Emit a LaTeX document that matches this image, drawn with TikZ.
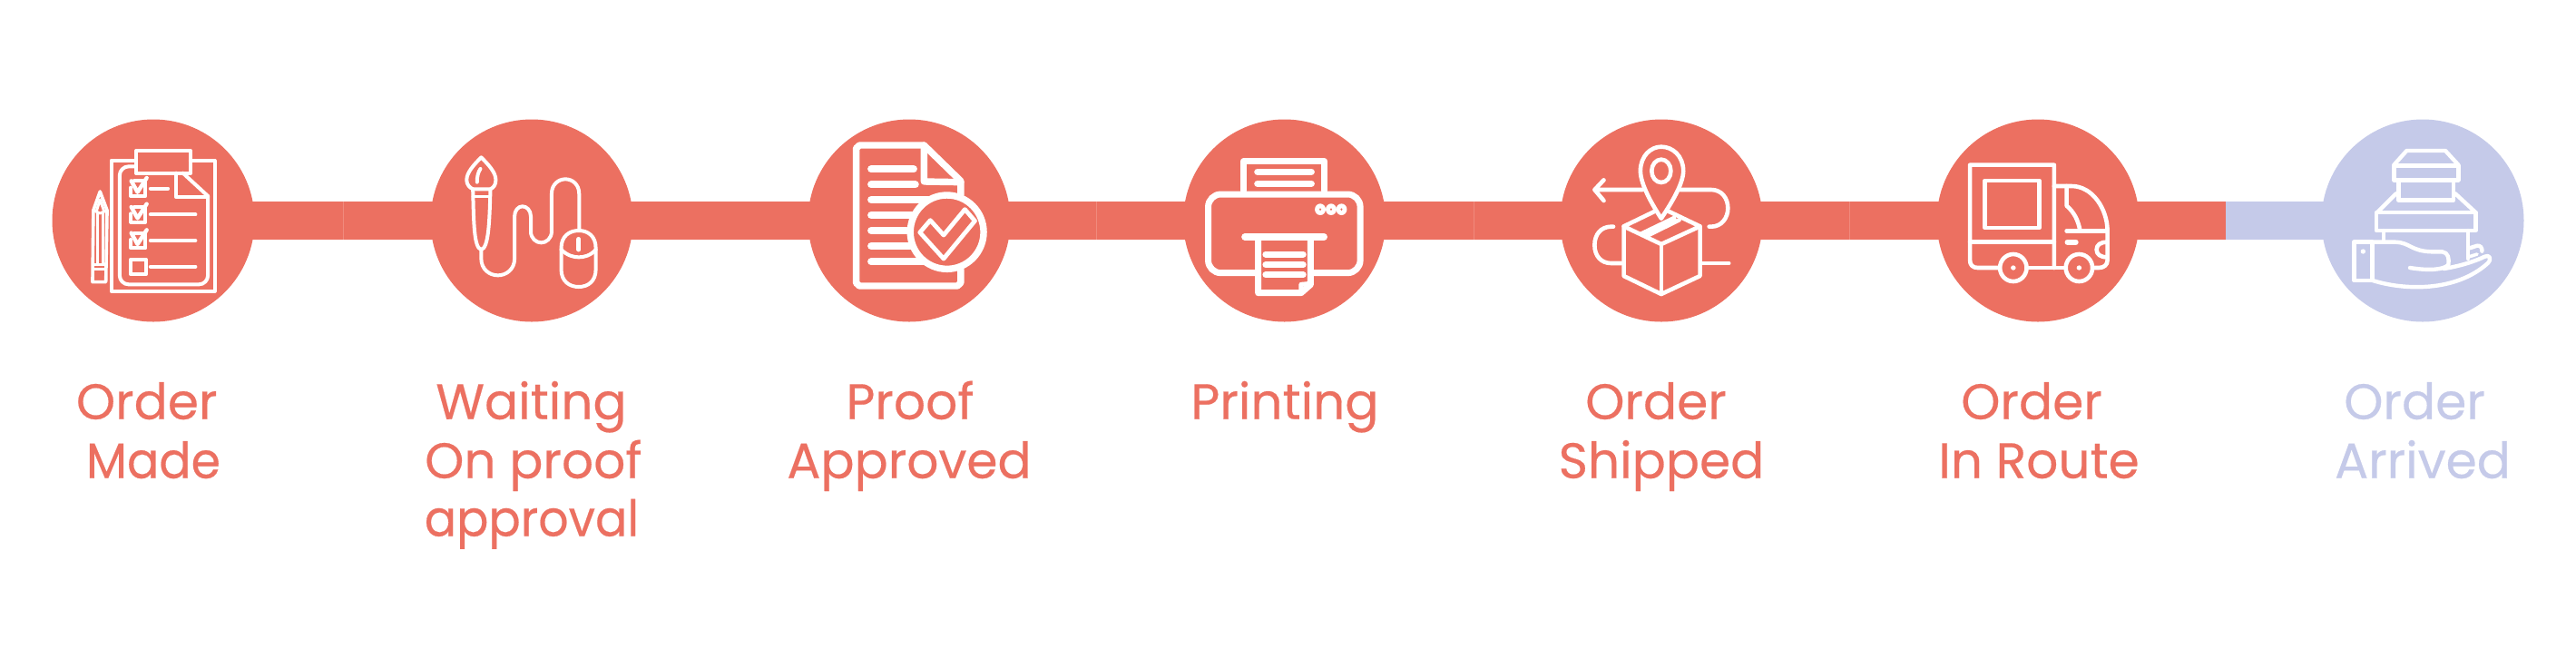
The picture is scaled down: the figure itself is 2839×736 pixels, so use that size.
\documentclass[tikz,border=0pt]{standalone}
\usepackage{fontspec}
\setmainfont{Poppins}[FakeBold=0.35]
\definecolor{salmon}{HTML}{EC7061}
\definecolor{lav}{HTML}{C5CAE9}
\definecolor{seam}{HTML}{F08A7D}
\tikzset{
 disc/.style={circle,minimum size=111.5pt,inner sep=0pt,draw=none},
 barline/.style={line width=21pt,line cap=butt},
 seamline/.style={seam,line width=0.25pt},
 lab/.style={anchor=base,inner sep=0pt,font=\fontsize{27.5pt}{30pt}\selectfont},
 ico/.style={draw=white,line width=#1,line cap=round,line join=round},
 ico/.default=2pt,
 zA/.style={shift={(40,110)},x=0.22957pt,y=-0.16667pt},
 zB/.style={shift={(860,110)},x=0.22957pt,y=-0.16667pt},
 zC/.style={shift={(1700,110)},x=0.22957pt,y=-0.16667pt},
 zD/.style={shift={(2400,110)},x=0.16667pt,y=-0.16667pt},
}
\begin{document}
\begin{tikzpicture}[x=0.5pt,y=-0.5pt]
\useasboundingbox (0,0) rectangle (2839,736);
\fill[white] (0,0) rectangle (2839,736);
% discs
\node[disc,fill=salmon] (c1) at (169,243) {};
\node[disc,fill=salmon] (c2) at (586,243) {};
\node[disc,fill=salmon] (c3) at (1002,243) {};
\node[disc,fill=salmon] (c4) at (1415.6,243) {};
\node[disc,fill=salmon] (c5) at (1831,243) {};
\node[disc,fill=salmon] (c6) at (2246,243) {};
\node[disc,fill=lav] (c7) at (2670,243) {};
\coordinate (split) at (2453,243);
% connectors
\draw[salmon,barline] (c1.center) -- (c2.center);
\draw[salmon,barline] (c2.center) -- (c3.center);
\draw[salmon,barline] (c3.center) -- (c4.center);
\draw[salmon,barline] (c4.center) -- (c5.center);
\draw[salmon,barline] (c5.center) -- (c6.center);
\draw[salmon,barline] (c6.center) -- (split);
\draw[lav,barline] (split) -- (c7.center);
\draw[seamline] (378,222) -- (378,264) (1208.5,222) -- (1208.5,264) (1624,222) -- (1624,264) (2038.5,222) -- (2038.5,264);

% icon 1
\begin{scope}[zA]
\draw[ico=2pt] (238,200) -- (180,200) -- (180,632) -- (428,632) -- (428,200) -- (370,200);
\draw[ico=2pt,rounded corners=5pt] (238,220) -- (200,220) -- (200,610) -- (412,610) -- (412,318);
\draw[ico=2pt] (412,318) -- (352,242);
\draw[ico=2pt] (336,242) -- (336,322) -- (412,322);
\draw[ico=2pt] (240,168) rectangle (370,243);
\foreach \d in {0,86,172}{
 \draw[ico=2pt] (235,268+\d) -- (262,268+\d) -- (262,318+\d) -- (227,318+\d) -- (227,290+\d);
 \draw[ico=2.2pt] (228,268+\d) -- (243,305+\d) -- (265,258+\d);
}
\draw[ico=2pt] (227,527) rectangle (263,577);
\draw[ico=2pt] (274,293) -- (316,293);
\draw[ico=2pt] (274,379) -- (382,379);
\draw[ico=2pt] (274,465) -- (382,465);
\draw[ico=2pt] (274,551) -- (382,551);
\draw[ico=1.8pt] (137,365) -- (153,303) -- (170,365) -- (167,602) -- (135,602) -- cycle;
\draw[ico=1.5pt] (145,365) -- (153,330) -- (162,365);
\draw[ico=1.5pt] (137,365) -- (153,375) -- (170,365);
\draw[ico=1.5pt] (147,375) -- (147,545) (160,375) -- (160,545);
\draw[ico=1.5pt] (137,545) -- (167,545) (137,560) -- (167,560);
% icon 2
\draw[ico=2pt] (1068,190) .. controls (1050,215) and (1033,240) .. (1033,265) .. controls (1033,280) and (1040,290) .. (1048,295) -- (1090,295) .. controls (1098,290) and (1103,280) .. (1103,265) .. controls (1103,240) and (1086,215) .. (1068,190) -- cycle;
\draw[ico=2pt] (1066,228) .. controls (1060,240) and (1058,255) .. (1058,272);
\draw[ico=1.5pt] (1048,318) -- (1090,318);
\draw[ico=2pt] (1048,295) .. controls (1050,400) and (1050,490) .. (1068,495) .. controls (1086,490) and (1088,400) .. (1090,295);
\draw[ico=2pt] (1068,495) -- (1068,525) .. controls (1068,560) and (1088,580) .. (1108,580) .. controls (1128,580) and (1148,560) .. (1148,525) -- (1148,385) .. controls (1148,365) and (1157,352) .. (1167,352) .. controls (1177,352) and (1187,365) .. (1187,385) -- (1187,435) .. controls (1187,458) and (1200,472) .. (1212,472) .. controls (1224,472) and (1237,458) .. (1237,435) -- (1237,310) .. controls (1237,280) and (1253,262) .. (1270,262) .. controls (1287,262) and (1303,280) .. (1303,310) -- (1303,430);
\draw[ico=2pt] (1260,490) .. controls (1260,450) and (1280,432) .. (1302,432) .. controls (1324,432) and (1343,450) .. (1343,490) -- (1343,560) .. controls (1343,600) and (1324,618) .. (1302,618) .. controls (1280,618) and (1260,600) .. (1260,560) -- cycle;
\draw[ico=2pt] (1260,495) .. controls (1275,515) and (1290,520) .. (1302,520) .. controls (1315,520) and (1330,515) .. (1343,495);
\draw[ico=2.4pt] (1302,460) -- (1302,495);
\end{scope}

% icon 3
\begin{scope}[zB]
\draw[ico=3.7pt] (433,315) -- (433,268) -- (345,150) -- (190,150) -- (182,160) -- (182,605) -- (190,615) -- (425,615) -- (433,605) -- (433,560);
\draw[ico=3.7pt] (345,150) -- (345,270) -- (433,272);
\draw[ico=4pt] (218,229) -- (320,229) (218,280) -- (324,280) (218,330) -- (355,330) (218,381) -- (316,381) (218,432) -- (303,432) (218,483) -- (313,483) (218,535) -- (345,535);
\draw[ico=3.7pt] (400,437) ellipse [x radius=88,y radius=122];
\draw[ico=2.4pt] (335,438) -- (360,398) -- (392,447) -- (443,362) -- (467,400) -- (392,525) -- cycle;
% icon 4
\draw[ico=3.5pt] (1112,300) -- (1112,203) -- (1306,203) -- (1306,300);
\draw[ico=3.5pt] (1145,238) -- (1275,238) (1145,277) -- (1275,277);
\draw[ico=3.5pt,rounded corners=7pt] (1147,572) -- (1027,572) -- (1027,312) -- (1392,312) -- (1392,572) -- (1273,572);
\draw[ico=3.8pt] (1115,453) -- (1305,453);
\draw[ico=3.5pt] (1147,453) -- (1147,638) -- (1250,638) -- (1273,610) -- (1273,453);
\draw[ico=2.5pt] (1250,632) -- (1250,610) -- (1273,607);
\draw[ico=3.5pt] (1165,510) -- (1255,510) (1165,545) -- (1255,545) (1165,578) -- (1255,578);
\foreach \xx in {1296,1322,1347}{
 \fill[white] (\xx,362) ellipse [x radius=13,y radius=19];
 \fill[salmon] (\xx,362) ellipse [x radius=2.5,y radius=4];
}
\end{scope}

% icon 5
\begin{scope}[zC]
\draw[ico=2.3pt] (285,392) .. controls (265,350) and (235,280) .. (235,235) .. controls (235,185) and (260,155) .. (285,155) .. controls (312,155) and (338,185) .. (338,235) .. controls (338,280) and (305,350) .. (285,392) -- cycle;
\draw[ico=2.3pt] (285,235) ellipse [x radius=23,y radius=38];
\draw[ico=2.3pt] (125,297) -- (240,297) (147,265) -- (125,297) -- (147,333);
\draw[ico=2.3pt] (330,297) -- (405,297) .. controls (430,297) and (445,325) .. (445,358) .. controls (445,390) and (430,419) .. (405,419) -- (400,419);
\draw[ico=2.3pt] (170,419) -- (165,419) .. controls (140,419) and (125,445) .. (125,480) .. controls (125,515) and (140,540) .. (165,540) -- (190,540);
\draw[ico=2.3pt] (380,540) -- (447,540);
\draw[ico=2.3pt] (270,368) -- (195,418) -- (285,477) -- (378,418) -- (302,368);
\draw[ico=2.3pt] (195,418) -- (195,582) -- (285,642) -- (378,582) -- (378,418);
\draw[ico=2.3pt] (285,477) -- (285,642);
\draw[ico=2.3pt] (238,442) -- (316,390) (250,450) -- (328,397);
% icon 6
\draw[ico=2.3pt] (1095,555) -- (1045,555) .. controls (1032,555) and (1026,545) .. (1026,530) -- (1026,215) -- (1228,215) -- (1228,555);
\draw[ico=2.3pt] (1165,555) -- (1255,555);
\draw[ico=2.3pt] (1026,470) -- (1228,470);
\draw[ico=2.3pt] (1062,267) rectangle (1192,423);
\draw[ico=2.3pt] (1228,285) -- (1270,285) .. controls (1320,285) and (1355,360) .. (1356,430) -- (1356,530) .. controls (1356,545) and (1348,555) .. (1335,555) -- (1325,555);
\draw[ico=2.3pt] (1258,285) -- (1258,350) .. controls (1275,370) and (1285,395) .. (1290,430);
\draw[ico=2.3pt] (1258,433) -- (1356,433);
\draw[ico=3pt] (1260,470) -- (1280,470);
\draw[ico=2.3pt] (1356,470) .. controls (1338,470) and (1330,480) .. (1330,495) .. controls (1330,510) and (1338,520) .. (1356,520);
\foreach \xx in {1130,1288}{
 \draw[ico=2.3pt] (\xx,555) ellipse [x radius=32,y radius=45];
 \fill[white] (\xx,555) ellipse [x radius=6,y radius=8];
}
\end{scope}

% icon 7
\begin{scope}[zD]
\draw[ico=2.2pt] (715,215) -- (757,168) -- (885,168) -- (928,215);
\draw[ico=2.2pt] (715,218) rectangle (928,265);
\draw[ico=2.2pt] (730,265) -- (730,332) -- (912,332) -- (912,265);
\draw[ico=2.2pt] (722,310) -- (660,372) (918,310) -- (985,372);
\draw[ico=2.2pt] (657,372) rectangle (985,432);
\draw[ico=2.2pt] (680,432) -- (680,465) (960,432) -- (960,525);
\draw[ico=2.2pt] (583,470) rectangle (643,597);
\draw[ico=2.2pt] (643,470) -- (720,470) .. controls (770,472) and (770,500) .. (840,502) -- (875,502) .. controls (895,505) and (898,525) .. (895,545) .. controls (880,562) and (830,565) .. (768,555);
\draw[ico=2.2pt] (645,597) .. controls (750,630) and (920,635) .. (1025,540) .. controls (1040,525) and (1030,510) .. (1015,518) .. controls (980,535) and (930,550) .. (880,558);
\draw[ico=2.2pt] (965,490) -- (990,482) .. controls (1000,480) and (1008,490) .. (1006,500);
\draw[ico=1.8pt] (965,518) -- (990,510);
\fill[white] (613,501) circle [radius=8];
\end{scope}

% labels
\node[lab,text=salmon] (t1a) at (161.7,461.7) {Order};
\node[lab,text=salmon,xscale=.95] (t1b) at (169,526.7) {Made};
\node[lab,text=salmon] (t2a) at (585.5,461.7) {Waiting};
\node[lab,text=salmon] (t2b) at (587.8,526.7) {On proof};
\node[lab,text=salmon,xscale=.95] (t2c) at (586,590.5) {approval};
\node[lab,text=salmon] (t3a) at (1003,461.7) {Proof};
\node[lab,text=salmon] (t3b) at (1002,526.7) {Approved};
\node[lab,text=salmon] (t4a) at (1416,461.7) {Printing};
\node[lab,text=salmon] (t5a) at (1825,461.7) {Order};
\node[lab,text=salmon] (t5b) at (1831,526.7) {Shipped};
\node[lab,text=salmon] (t6a) at (2239,461.7) {Order};
\node[lab,text=salmon] (t6b) at (2247,526.7) {In Route};
\node[lab,text=lav] (t7a) at (2661,461.7) {Order};
\node[lab,text=lav] (t7b) at (2670,526.7) {Arrived};
\end{tikzpicture}
\end{document}
